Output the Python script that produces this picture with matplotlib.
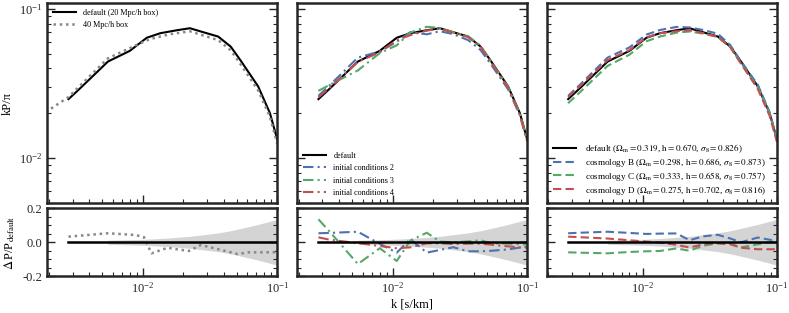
import numpy as np
import matplotlib
matplotlib.use("Agg")
import matplotlib.pyplot as plt
from matplotlib.ticker import LogLocator, MultipleLocator, NullFormatter, FixedLocator

plt.rcParams['font.family'] = ['Liberation Serif', 'DejaVu Serif']
plt.rcParams['mathtext.fontset'] = 'stix'
plt.rcParams['axes.unicode_minus'] = False

# k grid [s/km]
k = [0.0028, 0.0034, 0.0055, 0.0080, 0.0107, 0.0135, 0.0179, 0.0224,
     0.0282, 0.0363, 0.0450, 0.0540, 0.0720, 0.0880, 0.1000]

# kP/pi, default run (20 Mpc/h box)
p_default = [0.0249, 0.0293, 0.0445, 0.0525, 0.0643, 0.0690, 0.0722, 0.0745,
             0.0700, 0.0655, 0.0561, 0.0445, 0.0303, 0.0201, 0.0133]

# 40 Mpc/h box has its own k sampling
k_40 = [0.0019, 0.0028, 0.0055, 0.0088, 0.0113, 0.0160, 0.0224, 0.0363,
        0.0450, 0.0540, 0.0720, 0.0880, 0.1000]
p_40 = [0.0204, 0.0257, 0.0468, 0.0570, 0.0630, 0.0680, 0.0710, 0.0620,
        0.0530, 0.0420, 0.0285, 0.0190, 0.0125]
k_40r = [0.0028, 0.0055, 0.0088, 0.0102, 0.0116, 0.0153, 0.0175, 0.0220,
         0.0270, 0.0365, 0.0505, 0.0620, 0.1000]
r_40 = [0.033, 0.053, 0.043, 0.030, -0.065, -0.032, -0.040, -0.051,
        -0.016, -0.041, -0.069, -0.059, -0.059]

# initial conditions runs
p_ic2 = [0.0262, 0.0309, 0.0473, 0.0520, 0.0604, 0.0702, 0.0678, 0.0711,
         0.0680, 0.0620, 0.0531, 0.0423, 0.0290, 0.0195, 0.0130]
p_ic3 = [0.0283, 0.0311, 0.0388, 0.0507, 0.0572, 0.0697, 0.0762, 0.0748,
         0.0700, 0.0658, 0.0568, 0.0442, 0.0301, 0.0199, 0.0131]
p_ic4 = [0.0256, 0.0297, 0.0443, 0.0513, 0.0620, 0.0669, 0.0718, 0.0741,
         0.0693, 0.0650, 0.0557, 0.0439, 0.0296, 0.0195, 0.0129]
r_ic2 = [0.053, 0.055, 0.062, -0.009, -0.061, 0.018, -0.061, -0.045,
         -0.029, -0.053, -0.053, -0.050, -0.042, -0.031, -0.025]
r_ic3 = [0.135, 0.062, -0.128, -0.035, -0.110, 0.010, 0.056, 0.004,
         0.000, 0.005, 0.012, -0.006, -0.008, -0.012, -0.012]
r_ic4 = [0.029, 0.015, -0.005, -0.022, -0.035, -0.030, -0.006, -0.006,
         -0.010, -0.008, -0.008, -0.014, -0.024, -0.030, -0.033]

# cosmology runs
p_cosB = [0.0262, 0.0309, 0.0473, 0.0554, 0.0675, 0.0725, 0.0760, 0.0754,
          0.0725, 0.0684, 0.0573, 0.0445, 0.0311, 0.0204, 0.0134]
p_cosC = [0.0234, 0.0275, 0.0416, 0.0495, 0.0609, 0.0655, 0.0696, 0.0708,
          0.0686, 0.0651, 0.0557, 0.0432, 0.0299, 0.0201, 0.0134]
p_cosD = [0.0257, 0.0302, 0.0455, 0.0531, 0.0646, 0.0689, 0.0711, 0.0722,
          0.0692, 0.0651, 0.0554, 0.0431, 0.0291, 0.0193, 0.0128]
r_cosB = [0.053, 0.056, 0.062, 0.055, 0.049, 0.051, 0.052, 0.012,
          0.035, 0.044, 0.022, 0.000, 0.028, 0.015, 0.009]
r_cosC = [-0.059, -0.061, -0.065, -0.057, -0.053, -0.051, -0.036, -0.050,
          -0.020, -0.006, -0.008, -0.030, -0.012, 0.000, 0.008]
r_cosD = [0.033, 0.030, 0.022, 0.012, 0.004, -0.002, -0.015, -0.031,
          -0.012, -0.006, -0.012, -0.032, -0.041, -0.041, -0.041]

# grey band (expected scatter)
k_band = [0.0055, 0.0088, 0.0113, 0.0160, 0.0224, 0.0363, 0.0450, 0.0540,
          0.0720, 0.0880, 0.1000]
sig_band = [0.012, 0.016, 0.019, 0.026, 0.035, 0.055, 0.068, 0.082,
            0.105, 0.123, 0.135]

blue, green, red = '#4C72B0', '#55A868', '#C44E52'
spine_col = '#262626'

fig = plt.figure(figsize=(7.89, 3.13), dpi=100)
lefts = [0.060, 0.3768, 0.6933]
w = 0.2915
tops, bots = [], []
for l in lefts:
    tops.append(fig.add_axes([l, 0.3514, w, 0.639]))
    bots.append(fig.add_axes([l, 0.1173, w, 0.2173]))


def style(ax, logy):
    ax.set_xscale('log')
    ax.set_xlim(1.95e-3, 0.1)
    ax.tick_params(which='both', direction='in', left=True, right=True,
                   top=False, bottom=True, colors=spine_col, labelsize=9)
    ax.tick_params(which='major', length=6, width=1.0)
    ax.tick_params(which='minor', length=3, width=0.8)
    for sp in ax.spines.values():
        sp.set_linewidth(1.8)
        sp.set_color(spine_col)
    if logy:
        ax.set_yscale('log')
        ax.set_ylim(0.005, 0.11)
    else:
        ax.set_ylim(-0.2, 0.2)
        ax.yaxis.set_major_locator(FixedLocator([-0.2, 0.0, 0.2]))
        ax.yaxis.set_minor_locator(MultipleLocator(0.05))


for i in range(3):
    style(tops[i], True)
    style(bots[i], False)
    tops[i].xaxis.set_major_formatter(NullFormatter())
    tops[i].xaxis.set_minor_formatter(NullFormatter())
    bots[i].xaxis.set_minor_formatter(NullFormatter())
    bots[i].fill_between(k_band, [-s for s in sig_band], sig_band,
                         color='#d4d4d4', lw=0, zorder=1)
    bots[i].plot([k[0], k[-1]], [0, 0], color='k', lw=1.8, zorder=3)
    if i > 0:
        tops[i].yaxis.set_major_formatter(NullFormatter())
        tops[i].yaxis.set_minor_formatter(NullFormatter())
        bots[i].yaxis.set_major_formatter(NullFormatter())

leg_kw = dict(frameon=False, fontsize=5.9, handlelength=2.8, labelspacing=0.55,
              handletextpad=0.9, borderaxespad=0.3)

# left: box size
ax = tops[0]
ax.plot(k, p_default, color='k', lw=1.5, label='default (20 Mpc/h box)')
ax.plot(k_40, p_40, color='#888888', lw=1.8, ls=(0, (1, 1.5)), label='40 Mpc/h box')
ax.legend(loc='upper left', **leg_kw)
ax.set_ylabel('kP/π', fontsize=9)
bots[0].plot(k_40r, r_40, color='#888888', lw=1.8, ls=(0, (1, 1.5)), zorder=2)
bots[0].set_ylabel(r'$\Delta\,$P/P$_{\rm default}$', fontsize=9)

# middle: initial conditions
ax = tops[1]
dashdot = (0, (5, 2, 1, 2))
ax.plot(k, p_default, color='k', lw=1.5, label='default')
ax.plot(k, p_ic2, color=blue, lw=1.5, ls=dashdot, label='initial conditions 2')
ax.plot(k, p_ic3, color=green, lw=1.5, ls=dashdot, label='initial conditions 3')
ax.plot(k, p_ic4, color=red, lw=1.5, ls=dashdot, label='initial conditions 4')
ax.legend(loc='lower left', **leg_kw)
bots[1].plot(k, r_ic2, color=blue, lw=1.5, ls=dashdot, zorder=2)
bots[1].plot(k, r_ic3, color=green, lw=1.5, ls=dashdot, zorder=2)
bots[1].plot(k, r_ic4, color=red, lw=1.5, ls=dashdot, zorder=2)
bots[1].set_xlabel('k [s/km]', fontsize=9, labelpad=2)

# right: cosmology
ax = tops[2]
dashed = (0, (4, 2))
ax.plot(k, p_default, color='k', lw=1.5,
        label=r'default ($\Omega_{\rm m}=0.319$, $\rm h=0.670$, $\sigma_8=0.826$)')
ax.plot(k, p_cosB, color=blue, lw=1.5, ls=dashed,
        label=r'cosmology B ($\Omega_{\rm m}=0.298$, $\rm h=0.686$, $\sigma_8=0.873$)')
ax.plot(k, p_cosC, color=green, lw=1.5, ls=dashed,
        label=r'cosmology C ($\Omega_{\rm m}=0.333$, $\rm h=0.658$, $\sigma_8=0.757$)')
ax.plot(k, p_cosD, color=red, lw=1.5, ls=dashed,
        label=r'cosmology D ($\Omega_{\rm m}=0.275$, $\rm h=0.702$, $\sigma_8=0.816$)')
leg_kw_r = dict(leg_kw, fontsize=6.6, labelspacing=0.1, handlelength=2.5)
ax.legend(loc='lower left', **leg_kw_r)
bots[2].plot(k, r_cosB, color=blue, lw=1.5, ls=dashed, zorder=2)
bots[2].plot(k, r_cosC, color=green, lw=1.5, ls=dashed, zorder=2)
bots[2].plot(k, r_cosD, color=red, lw=1.5, ls=dashed, zorder=2)

fig.savefig('out.png', dpi=100)
